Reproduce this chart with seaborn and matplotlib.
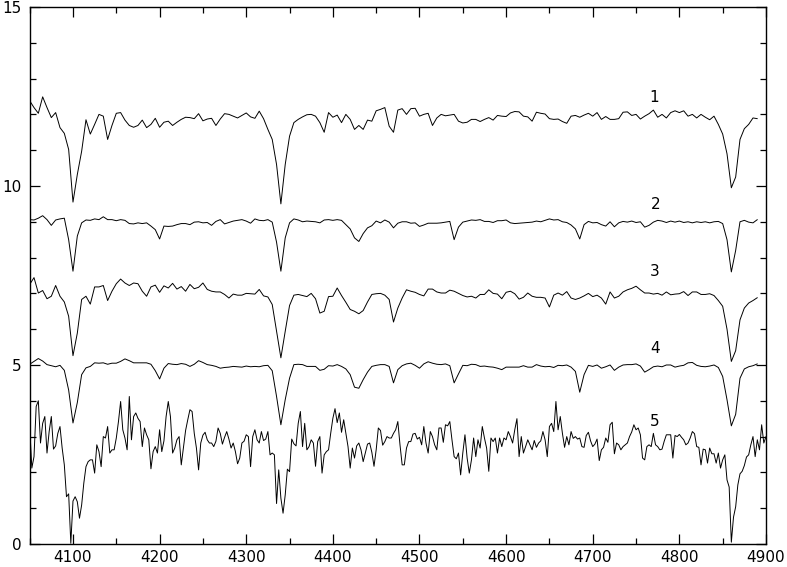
import numpy as np
import pandas as pd
import matplotlib
matplotlib.use("Agg")
import matplotlib.pyplot as plt
import seaborn as sns
from matplotlib.ticker import MultipleLocator

# wavelength sampling of the spectra (Angstrom)
wave_start = 4050
wave_step = 5        # spectra 1-4
wave_step5 = 2.5     # spectrum 5

spec1 = [12.38, 12.19, 12.03, 12.49, 12.19, 11.91, 12.05, 11.63, 11.47, 11.02,
         9.55, 10.32, 10.97, 11.85, 11.45, 11.72, 12.0, 11.95, 11.3, 11.69,
         12.03, 12.05, 11.84, 11.69, 11.64, 11.69, 11.84, 11.63, 11.72, 11.89,
         11.64, 11.78, 11.81, 11.69, 11.78, 11.86, 11.92, 11.91, 11.88, 12.02,
         11.82, 11.87, 11.89, 11.69, 11.87, 12.02, 12.0, 11.95, 11.9, 11.97,
         12.04, 11.93, 11.89, 12.09, 11.88, 11.58, 11.3, 10.6, 9.5, 10.6,
         11.39, 11.77, 11.86, 11.93, 11.99, 12.0, 11.95, 11.77, 11.5, 12.05,
         11.92, 11.98, 11.77, 12.0, 11.86, 11.58, 11.69, 11.58, 11.84, 11.81,
         12.1, 12.14, 12.19, 11.67, 11.5, 12.12, 12.16, 12.0, 12.16, 12.17,
         11.95, 12.0, 12.03, 11.69, 11.9, 12.0, 11.96, 11.98, 12.0, 11.81,
         11.76, 11.78, 11.86, 11.86, 11.8, 11.86, 11.91, 11.84, 11.97, 11.95,
         11.94, 12.04, 12.08, 12.07, 11.95, 11.93, 11.81, 12.06, 12.03, 12.01,
         11.88, 11.86, 11.87, 11.8, 11.75, 11.95, 11.97, 11.92, 11.98, 12.03,
         11.95, 12.05, 11.86, 11.94, 11.86, 11.86, 11.88, 12.06, 12.07, 11.97,
         12.0, 11.87, 11.95, 12.02, 12.12, 11.92, 12.0, 11.9, 12.05, 12.1,
         12.05, 12.1, 11.95, 12.0, 11.9, 12.0, 11.92, 11.85, 11.95, 11.72,
         11.45, 10.9, 9.95, 10.25, 11.3, 11.6, 11.72, 11.9, 11.88]

spec2 = [9.06, 9.05, 9.1, 9.17, 9.06, 8.9, 9.05, 9.08, 9.1, 8.5,
         7.62, 8.6, 8.97, 9.05, 9.04, 9.08, 9.06, 9.14, 9.06, 9.06,
         9.03, 9.06, 9.04, 8.95, 8.94, 8.97, 8.95, 8.97, 8.88, 8.78,
         8.52, 8.88, 8.87, 8.88, 8.92, 8.95, 8.95, 8.92, 8.99, 9.0,
         8.97, 8.98, 8.9, 9.01, 9.06, 8.94, 8.98, 9.02, 9.04, 9.06,
         9.02, 8.96, 9.08, 9.04, 9.03, 9.06, 8.99, 8.43, 7.62, 8.55,
         8.97, 9.08, 9.05, 9.0, 9.02, 9.01, 9.0, 8.97, 9.05, 9.06,
         9.04, 9.06, 9.04, 8.92, 8.8, 8.55, 8.45, 8.67, 8.83, 8.89,
         9.02, 8.97, 9.05, 8.99, 8.83, 8.96, 9.0, 9.0, 8.96, 8.97,
         8.87, 8.91, 8.96, 8.96, 8.96, 8.97, 8.99, 9.01, 8.5, 8.85,
         8.99, 9.02, 9.05, 9.04, 9.06, 9.01, 9.01, 8.98, 9.03, 9.03,
         9.05, 8.97, 8.95, 8.96, 8.97, 8.98, 8.99, 9.02, 9.0, 9.04,
         9.08, 9.05, 9.06, 9.0, 8.98, 8.91, 8.8, 8.52, 8.92, 9.01,
         8.97, 8.98, 8.92, 8.88, 9.0, 8.86, 8.97, 9.01, 8.99, 9.02,
         8.98, 9.0, 8.85, 8.9, 8.99, 9.04, 9.02, 8.98, 9.02, 8.99,
         9.02, 8.98, 9.0, 8.97, 9.0, 8.98, 9.0, 8.97, 9.0, 9.01,
         8.95, 8.5, 7.6, 8.2, 9.0, 9.04, 8.99, 8.97, 9.06]

spec3 = [7.25, 7.44, 7.01, 7.08, 6.85, 6.92, 7.22, 6.92, 6.76, 6.36,
         5.26, 5.89, 6.83, 6.92, 6.7, 7.18, 7.18, 7.22, 6.8, 7.06,
         7.27, 7.4, 7.29, 7.22, 7.29, 7.27, 7.06, 6.92, 7.18, 7.23,
         7.03, 7.21, 7.15, 7.28, 7.12, 7.19, 7.06, 7.25, 7.13, 7.17,
         7.29, 7.11, 7.06, 7.04, 7.04, 6.97, 6.87, 6.98, 6.95, 6.95,
         7.0, 6.99, 6.98, 7.11, 6.93, 6.9, 6.69, 5.94, 5.2, 5.94,
         6.66, 6.95, 6.97, 6.94, 6.91, 7.0, 6.85, 6.45, 6.5, 6.91,
         6.92, 7.15, 6.94, 6.75, 6.55, 6.5, 6.43, 6.52, 6.76, 6.97,
         6.99, 7.0, 6.95, 6.83, 6.2, 6.59, 6.87, 7.1, 7.06, 7.03,
         6.97, 6.93, 7.12, 7.12, 7.04, 7.01, 7.01, 7.09, 7.06, 7.0,
         6.94, 6.9, 6.92, 6.87, 6.97, 6.97, 7.1, 7.0, 6.98, 6.85,
         7.03, 7.06, 6.99, 6.84, 6.89, 7.01, 6.92, 6.89, 6.89, 6.87,
         6.62, 6.95, 7.01, 6.95, 7.05, 6.87, 6.83, 6.87, 6.93, 7.0,
         6.91, 6.95, 6.87, 6.7, 7.04, 6.87, 6.92, 7.04, 7.1, 7.14,
         7.2, 7.1, 7.01, 7.01, 6.98, 7.0, 6.95, 7.04, 6.96, 6.98,
         6.99, 7.05, 6.94, 7.04, 7.04, 6.97, 6.97, 6.99, 6.94, 6.8,
         6.64, 6.0, 5.1, 5.4, 6.26, 6.59, 6.73, 6.8, 6.88]

spec4 = [5.02, 5.1, 5.18, 5.11, 5.01, 4.98, 4.95, 4.99, 4.85, 4.3,
         3.38, 3.95, 4.73, 4.92, 4.96, 5.06, 5.05, 5.06, 5.02, 5.05,
         5.05, 5.1, 5.17, 5.12, 5.06, 5.06, 5.06, 5.06, 5.02, 4.84,
         4.61, 4.91, 5.04, 5.02, 5.01, 5.04, 5.02, 4.96, 5.02, 5.12,
         5.07, 5.01, 4.99, 4.96, 4.91, 4.93, 4.94, 4.96, 4.95, 4.94,
         4.97, 4.95, 4.96, 4.95, 4.98, 4.99, 4.84, 4.12, 3.33, 4.03,
         4.63, 5.01, 5.02, 5.01, 4.96, 4.96, 4.96, 4.85, 4.88, 4.98,
         4.97, 5.01, 4.96, 4.89, 4.73, 4.38, 4.35, 4.59, 4.8, 4.96,
         4.99, 5.01, 5.01, 4.96, 4.5, 4.87, 4.98, 5.03, 5.05, 4.99,
         4.91, 5.03, 5.09, 5.05, 5.02, 5.01, 5.03, 4.98, 4.5, 4.75,
         4.99, 4.98, 5.02, 5.01, 4.96, 4.97, 4.95, 4.94, 4.91, 4.87,
         4.94, 4.94, 4.94, 4.94, 4.98, 4.94, 4.94, 5.01, 4.97, 4.95,
         4.96, 4.93, 4.99, 4.98, 5.0, 4.94, 4.82, 4.24, 4.73, 4.99,
         4.96, 5.0, 4.91, 4.95, 5.0, 4.85, 4.94, 5.0, 5.01, 5.01,
         5.03, 4.97, 4.8, 4.87, 4.95, 4.97, 4.95, 5.0, 5.0, 4.94,
         4.97, 4.99, 5.06, 5.07, 4.99, 4.96, 4.95, 4.97, 5.0, 4.93,
         4.68, 4.03, 3.3, 3.62, 4.63, 4.89, 4.95, 4.98, 5.03]

spec5 = [3.28, 2.12, 2.44, 3.84, 4.0, 2.82, 3.37, 3.56, 2.54, 3.14,
         3.56, 2.65, 2.74, 3.09, 3.28, 2.68, 2.21, 1.32, 1.4, 0.02,
         1.2, 1.32, 1.18, 0.72, 1.09, 1.7, 2.16, 2.3, 2.35, 2.35,
         1.98, 2.77, 2.58, 2.16, 3.0, 2.96, 3.28, 2.54, 2.63, 2.63,
         2.96, 3.42, 3.98, 3.19, 2.96, 2.63, 4.12, 2.91, 3.56, 3.66,
         3.51, 3.42, 2.72, 3.24, 3.05, 2.91, 2.1, 2.58, 2.72, 2.54,
         3.19, 2.58, 2.88, 3.56, 3.98, 3.56, 2.54, 2.68, 2.91, 3.0,
         2.21, 2.68, 3.17, 3.47, 3.75, 3.7, 3.09, 2.68, 2.07, 2.82,
         3.04, 3.12, 2.91, 2.82, 2.82, 2.72, 2.87, 3.24, 3.09, 2.79,
         2.98, 3.14, 2.93, 2.68, 2.82, 2.58, 2.24, 2.4, 2.82, 2.87,
         3.05, 3.0, 2.16, 3.0, 3.19, 2.91, 2.82, 3.14, 2.89, 2.93,
         3.14, 2.49, 2.54, 2.49, 1.13, 2.07, 1.28, 0.86, 1.37, 2.09,
         2.02, 2.93, 2.8, 2.74, 3.37, 3.7, 2.72, 3.37, 2.63, 2.72,
         2.91, 2.82, 2.17, 2.86, 3.0, 1.98, 2.49, 2.58, 2.63, 3.09,
         3.51, 3.78, 3.39, 3.66, 3.12, 3.47, 3.09, 2.72, 2.12, 2.68,
         2.4, 2.74, 2.82, 2.63, 2.3, 2.54, 2.79, 2.82, 2.56, 2.17,
         2.63, 3.24, 3.17, 2.76, 2.86, 3.0, 2.96, 2.96, 3.09, 3.19,
         3.42, 2.77, 2.21, 2.21, 2.68, 2.86, 2.86, 3.07, 3.09, 2.93,
         2.98, 2.77, 3.28, 2.82, 2.54, 3.14, 3.0, 2.77, 2.63, 3.24,
         3.24, 2.84, 3.33, 3.3, 3.42, 2.91, 2.44, 2.38, 2.54, 1.93,
         2.54, 3.05, 2.4, 1.98, 2.35, 2.96, 2.44, 2.91, 2.68, 3.28,
         2.96, 2.68, 2.03, 2.96, 2.86, 2.96, 2.54, 2.96, 2.72, 2.96,
         2.91, 3.14, 3.0, 2.82, 3.19, 3.5, 2.44, 3.0, 2.54, 2.72,
         2.91, 2.77, 2.63, 2.89, 2.7, 2.82, 2.88, 3.14, 2.91, 2.44,
         3.28, 3.37, 3.14, 3.98, 3.19, 3.56, 3.09, 2.7, 3.0, 2.77,
         3.14, 2.95, 3.0, 2.93, 2.96, 2.72, 2.7, 3.03, 3.12, 2.88,
         2.72, 2.79, 2.93, 2.33, 2.63, 2.7, 2.96, 2.84, 3.33, 3.4,
         2.52, 2.82, 2.77, 2.63, 2.72, 2.77, 2.82, 3.0, 3.13, 3.33,
         3.19, 3.24, 3.05, 2.4, 2.35, 2.72, 2.77, 2.72, 3.09, 2.77,
         2.72, 2.63, 2.65, 2.87, 3.05, 3.05, 3.05, 2.4, 3.03, 3.0,
         3.06, 2.98, 2.91, 2.77, 2.82, 2.96, 3.14, 3.08, 2.72, 2.7,
         2.21, 2.65, 2.63, 2.26, 2.68, 2.52, 2.52, 2.26, 2.54, 2.12,
         2.35, 2.49, 1.79, 1.59, 0.05, 0.75, 1.04, 1.65, 1.96, 2.03,
         2.19, 2.43, 2.49, 2.77, 3.0, 2.44, 2.91, 2.63, 3.33, 2.82,
         3.0]

spec_names = ["1", "2", "3", "4", "5"]
label_x = [4771, 4773, 4772, 4772, 4772]
label_y = [12.47, 9.48, 7.6, 5.45, 3.41]

all_flux = [spec1, spec2, spec3, spec4, spec5]
all_steps = [wave_step, wave_step, wave_step, wave_step, wave_step5]

frames = []
for name, flux, step in zip(spec_names, all_flux, all_steps):
    wave = wave_start + step * np.arange(len(flux))
    frames.append(pd.DataFrame({"wave": wave, "flux": flux, "spec": name}))
df = pd.concat(frames, ignore_index=True)

sns.set_style("ticks")
plt.rcParams["font.family"] = ["DejaVu Sans"]

fig = plt.figure(figsize=(7.87, 5.67), dpi=100)
ax = fig.add_axes([0.0377, 0.0406, 0.9356, 0.9471])

sns.lineplot(data=df, x="wave", y="flux", units="spec", estimator=None,
             color="black", lw=0.7, sort=False, ax=ax, legend=False)

ax.set_xlim(4050, 4900)
ax.set_ylim(0, 15)
ax.xaxis.set_major_locator(MultipleLocator(100))
ax.xaxis.set_minor_locator(MultipleLocator(50))
ax.yaxis.set_major_locator(MultipleLocator(5))
ax.yaxis.set_minor_locator(MultipleLocator(1))
ax.tick_params(which="both", direction="in", top=True, right=True,
               colors="black", width=0.9, labelsize=11)
ax.tick_params(which="major", length=7.5)
ax.tick_params(which="minor", length=4.5)
ax.tick_params(axis="y", pad=6)
ax.tick_params(axis="x", pad=4.5)
ax.set_xlabel("")
ax.set_ylabel("")
for sp in ax.spines.values():
    sp.set_visible(True)
    sp.set_color("black")
    sp.set_linewidth(1.0)

for name, lx, ly in zip(spec_names, label_x, label_y):
    ax.text(lx, ly, name, fontsize=11, ha="center", va="center", color="black")

fig.savefig("out.png", dpi=100)
